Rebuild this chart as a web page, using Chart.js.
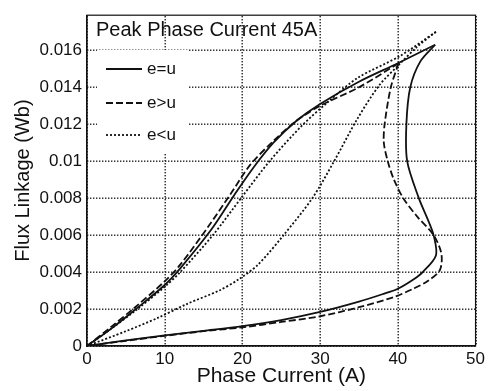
<!DOCTYPE html>
<html><head><meta charset="utf-8">
<script src="https://cdn.jsdelivr.net/npm/chart.js@4.4.1/dist/chart.umd.min.js"></script>
<style>html,body{margin:0;padding:0;background:#fff}canvas{display:block}</style>
</head><body>
<canvas id="c" width="488" height="391"></canvas>
<script>
const chartTitle = 'Peak Phase Current 45A';
const seriesNames = ['e=u', 'e>u', 'e<u'];
const xTickValues = [0, 10, 20, 30, 40, 50];
const yTickValues = [0, 0.002, 0.004, 0.006, 0.008, 0.010, 0.012, 0.014, 0.016];
const yTickLabels = ['0', '0.002', '0.004', '0.006', '0.008', '0.01', '0.012', '0.014', '0.016'];

// e=u (solid): rising branch and returning branch
const eqRiseI = [0, 3, 6.3, 10, 12, 16, 19, 21.5, 24, 27, 30, 35, 40, 44.8];
const eqRiseF = [0, 0.0009, 0.002, 0.0033, 0.0042, 0.0063, 0.0082, 0.0097, 0.0110, 0.0122, 0.0131, 0.0143, 0.0153, 0.0163];
const eqFallI = [44.8, 42.9, 41.6, 41.1, 41.2, 42.7, 43.7, 44.6, 44.9, 43.2, 42, 40, 38, 35, 30, 25, 20, 15, 10, 5, 0];
const eqFallF = [0.0163, 0.0154, 0.014, 0.012, 0.010, 0.008, 0.007, 0.006, 0.0049, 0.0040, 0.0036, 0.0031, 0.0028, 0.0024, 0.00184, 0.0014, 0.00107, 0.00082, 0.00058, 0.0003, 0];

// e>u (dashed)
const gtRiseI = [0, 3, 6.2, 10, 12, 15.5, 18.6, 21, 24, 27, 30, 35, 40.1];
const gtRiseF = [0, 0.001, 0.0021, 0.0035, 0.0044, 0.0064, 0.0083, 0.0098, 0.0111, 0.0122, 0.0130, 0.0140, 0.0153];
const gtFallI = [40.1, 39.1, 38.3, 38.2, 38.7, 39.5, 40.7, 42.5, 44.6, 45.6, 45.4, 43.8, 42, 39.5, 35, 30, 25, 20, 15, 10, 5, 0];
const gtFallF = [0.0153, 0.014, 0.012, 0.011, 0.010, 0.009, 0.008, 0.007, 0.006, 0.005, 0.0041, 0.0035, 0.0031, 0.00265, 0.0021, 0.00161, 0.0013, 0.00101, 0.0008, 0.00055, 0.00028, 0];

// e<u (dotted)
const ltRiseI = [0, 3, 6.5, 10, 12, 16.2, 20, 23.5, 27.6, 31, 34.8, 40.3, 44.9];
const ltRiseF = [0, 0.0009, 0.002, 0.0032, 0.004, 0.006, 0.0081, 0.010, 0.0119, 0.0132, 0.0145, 0.0157, 0.0170];
const ltFallI = [44.9, 42.5, 40.1, 37.6, 34.8, 31.8, 29, 25.3, 22, 19.5, 17, 13, 9, 5, 0];
const ltFallF = [0.0170, 0.0162, 0.0152, 0.0141, 0.0123, 0.010, 0.008, 0.006, 0.0044, 0.0036, 0.0030, 0.0023, 0.0015, 0.0008, 0];

const FONT = '"Liberation Sans", Arial, Helvetica, sans-serif';
const styles = [[], [7, 3], [2, 2]];
const zip = (xs, ys) => xs.map((x, i) => ({x: x, y: ys[i]}));

function ds(xs, ys, k) {
  return {
    label: seriesNames[k], data: zip(xs, ys), showLine: true, fill: false,
    borderColor: '#111', borderWidth: 1.8, borderDash: styles[k],
    pointRadius: 0, pointHoverRadius: 0, tension: 0.3
  };
}

const datasets = [
  ds(eqRiseI, eqRiseF, 0), ds(eqFallI, eqFallF, 0),
  ds(gtRiseI, gtRiseF, 1), ds(gtFallI, gtFallF, 1),
  ds(ltRiseI, ltRiseF, 2), ds(ltFallI, ltFallF, 2)
];

const overlay = {
  id: 'overlay',
  beforeDatasetsDraw(chart) {
    const ctx = chart.ctx, a = chart.chartArea;
    const xs = chart.scales.x, ys = chart.scales.y;
    ctx.save();
    // dotted grid drawn as small dots
    ctx.fillStyle = '#222';
    xTickValues.forEach(v => {
      const px = Math.round(xs.getPixelForValue(v));
      for (let y = Math.ceil(a.top); y < a.bottom; y += 3) ctx.fillRect(px - 0.5, y, 1.4, 1.4);
    });
    yTickValues.forEach(v => {
      const py = Math.round(ys.getPixelForValue(v));
      for (let x = Math.ceil(a.left); x < a.right; x += 3) ctx.fillRect(x, py - 0.5, 1.4, 1.4);
    });
    // legend box
    ctx.fillStyle = '#fff';
    ctx.fillRect(97, 50, 91, 103);
    ctx.fillStyle = '#111';
    ctx.font = '20px ' + FONT;
    ctx.textBaseline = 'middle';
    ctx.textAlign = 'left';
    ctx.fillText(chartTitle, 96, 30);
    const rows = [69, 103, 135];
    ctx.font = '17px ' + FONT;
    rows.forEach((y, k) => {
      ctx.beginPath();
      ctx.setLineDash(styles[k]);
      ctx.lineWidth = 1.8;
      ctx.strokeStyle = '#111';
      ctx.moveTo(106, y); ctx.lineTo(142, y);
      ctx.stroke();
      ctx.setLineDash([]);
      ctx.fillText(seriesNames[k], 147, y);
    });
    ctx.restore();
  },
  afterDraw(chart) {
    const a = chart.chartArea, ctx = chart.ctx;
    ctx.save();
    ctx.strokeStyle = '#111';
    ctx.lineWidth = 1.2;
    ctx.strokeRect(a.left, a.top, a.right - a.left, a.bottom - a.top);
    ctx.restore();
  }
};

new Chart(document.getElementById('c'), {
  type: 'scatter',
  data: {datasets: datasets},
  plugins: [overlay],
  options: {
    responsive: false, animation: false,
    layout: {padding: {top: 12, right: 9, left: 0, bottom: 0}},
    plugins: {legend: {display: false}, tooltip: {enabled: false}},
    scales: {
      x: {
        type: 'linear', min: 0, max: 50,
        afterFit: s => { s.height = 45; },
        afterBuildTicks: s => { s.ticks = xTickValues.map(v => ({value: v})); },
        ticks: {font: {size: 17, family: FONT}, color: '#111', padding: 3, maxRotation: 0},
        grid: {display: false, drawTicks: false},
        border: {display: true, color: '#111', width: 1.2},
        title: {display: true, text: 'Phase Current (A)', font: {size: 21, family: FONT}, color: '#111', padding: {top: 0, bottom: 2}}
      },
      y: {
        type: 'linear', min: 0, max: 0.0179,
        afterFit: s => { s.width = 87; },
        afterBuildTicks: s => { s.ticks = yTickValues.map(v => ({value: v})); },
        ticks: {font: {size: 17, family: FONT}, color: '#111', padding: 5,
          callback: (v, i) => yTickLabels[i]},
        grid: {display: false, drawTicks: false},
        border: {display: true, color: '#111', width: 1.2},
        title: {display: true, text: 'Flux Linkage (Wb)', font: {size: 20, family: FONT}, color: '#111', padding: {top: 11, bottom: 0}}
      }
    }
  }
});
</script>
</body></html>
